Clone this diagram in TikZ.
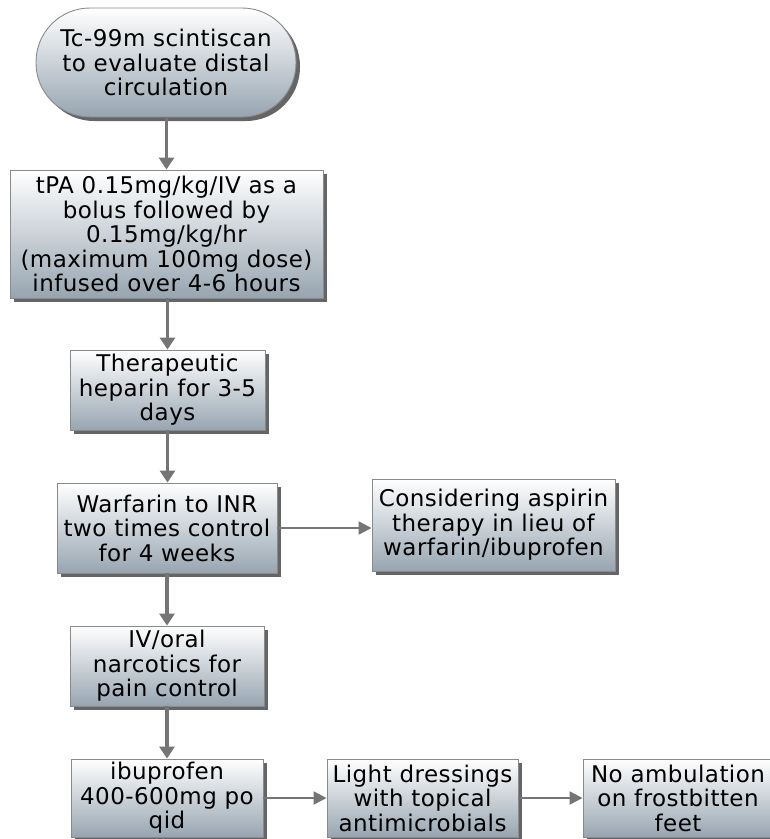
\documentclass[tikz,border=0pt]{standalone}
\usepackage{fontspec}
\setmainfont[LetterSpace=2]{DejaVu Sans}
\usetikzlibrary{arrows.meta,shadows}
\definecolor{boxbot}{HTML}{97A5B1}
\definecolor{boxedge}{HTML}{8A8A8A}
\definecolor{arr}{HTML}{757575}
\definecolor{shad}{HTML}{4A4A4A}
\tikzset{
  box/.style={draw=boxedge, line width=0.9pt, top color=white, bottom color=boxbot,
    align=center, inner sep=0pt,
    font=\fontsize{23}{24.5}\selectfont,
    drop shadow={shadow xshift=4pt, shadow yshift=-4pt, fill=shad, opacity=0.85}},
  varrow/.style={draw=arr, line width=3.5pt, -{Triangle[length=12pt,width=15pt]}},
  harrow/.style={draw=arr, line width=2.2pt, -{Triangle[length=13pt,width=13pt]}}
}
\begin{document}
\begin{tikzpicture}[x=1pt,y=-1pt]
\useasboundingbox (0,0) rectangle (770,839);
\node[box, rounded corners=54pt, minimum width=260pt, minimum height=109pt] (scan) at (166,62.5)
  {Tc-99m scintiscan\\to evaluate distal\\circulation};
\node[box, minimum width=313pt, minimum height=128pt] (tpa) at (166.5,234)
  {tPA 0.15mg/kg/IV as a\\bolus followed by\\0.15mg/kg/hr\\(maximum 100mg dose)\\infused over 4-6 hours};
\node[box, minimum width=195pt, minimum height=80pt] (ther) at (167.5,390)
  {Therapeutic\\heparin for 3-5\\days};
\node[box, minimum width=220pt, minimum height=90pt] (warf) at (167,528)
  {Warfarin to INR\\two times control\\for 4 weeks};
\node[box, minimum width=243pt, minimum height=92pt] (cons) at (493.5,525)
  {Considering aspirin\\therapy in lieu of\\warfarin/ibuprofen};
\node[box, minimum width=194pt, minimum height=80pt] (iv) at (167,666)
  {IV/oral\\narcotics for\\pain control};
\node[box, minimum width=192pt, minimum height=78pt] (ibu) at (167,798)
  {ibuprofen\\400-600mg po\\qid};
\node[box, minimum width=191pt, minimum height=78pt] (light) at (422.5,798)
  {Light dressings\\with topical\\antimicrobials};
\node[box, minimum width=190pt, minimum height=78pt] (noamb) at (678,798)
  {No ambulation\\on frostbitten\\feet};
\draw[varrow] (scan.south -| tpa.north) -- (tpa.north);
\draw[varrow] (tpa.south -| ther.north) -- (ther.north);
\draw[varrow] (ther.south) -- (ther.south |- warf.north);
\draw[varrow] (warf.south -| iv.north) -- (iv.north);
\draw[varrow] (iv.south) -- (ibu.north);
\draw[harrow] (warf.east) -- (warf.east -| cons.west);
\draw[harrow] (ibu.east) -- (light.west);
\draw[harrow] (light.east) -- (noamb.west);
\end{tikzpicture}
\end{document}
